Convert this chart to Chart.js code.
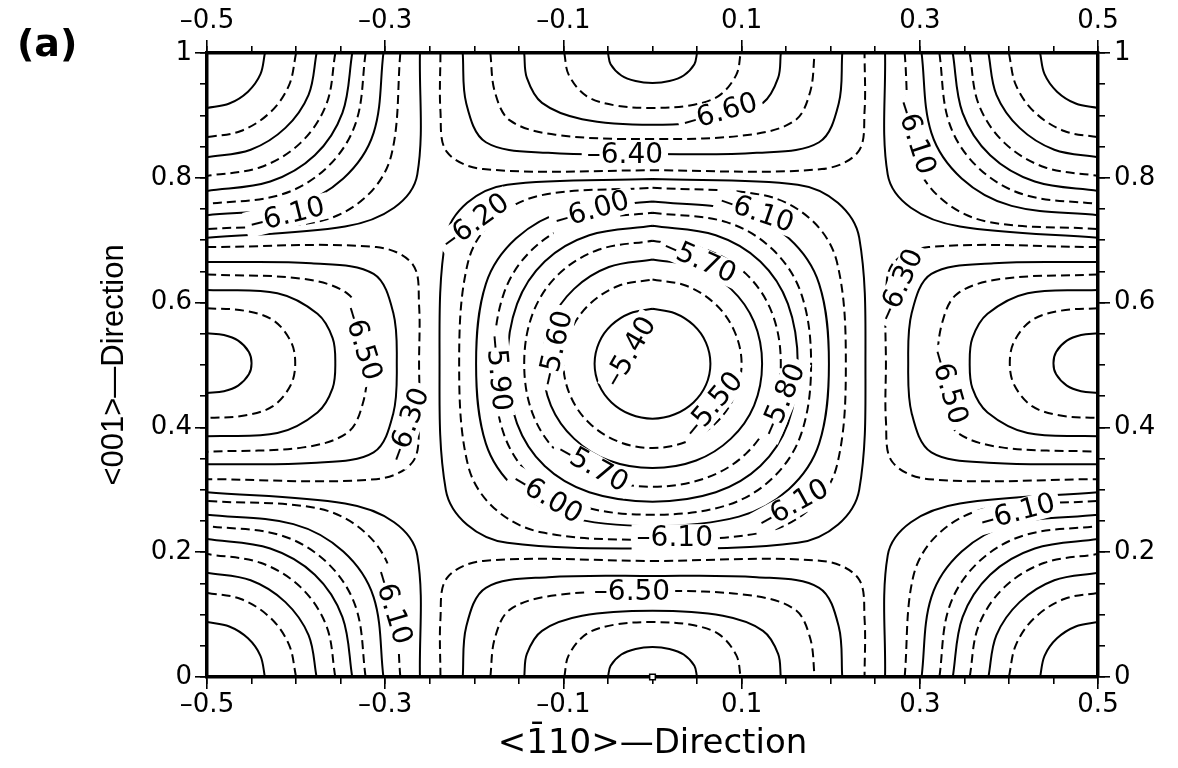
<!DOCTYPE html>
<html>
<head>
<meta charset="utf-8">
<script src="https://cdn.jsdelivr.net/npm/chart.js@4.4.1/dist/chart.umd.min.js"></script>
<style>
  html, body { margin: 0; background: #fff; }
  #wrap { width: 1178px; height: 768px; position: relative; }
</style>
</head>
<body>
<div id="wrap"><canvas id="contour"></canvas></div>
<script>
// tick labels
const xTicks = [-0.5, -0.3, -0.1, 0.1, 0.3, 0.5];
const yTicks = [0, 0.2, 0.4, 0.6, 0.8, 1];

// contour levels (solid = even tenths, dashed = odd tenths)
const maxLevels = [-5.4, -5.5, -5.6, -5.7, -5.8, -5.9, -6.0, -6.1, -6.2];
const minLevels = [-6.3, -6.4, -6.5, -6.6, -6.7, -6.8];

// closed contours round the maximum at (0, 0.5), same order as maxLevels
const centerRings = [
  [[0,.590],[.025,.583],[.046,.564],[.060,.536],[.065,.502],[.060,.468],[.046,.440],[.025,.421],[0,.414],[-.025,.421],[-.046,.440],[-.060,.468],[-.065,.502],[-.060,.536],[-.046,.564],[-.025,.583],[0,.590]],
  [[0,.637],[.038,.627],[.071,.597],[.092,.554],[.100,.502],[.092,.450],[.071,.407],[.038,.377],[0,.367],[-.038,.377],[-.071,.407],[-.092,.450],[-.100,.502],[-.092,.554],[-.071,.597],[-.038,.627],[0,.637]],
  [[0,.669],[.049,.657],[.088,.622],[.114,.569],[.123,.502],[.114,.435],[.088,.382],[.049,.347],[0,.335],[-.049,.347],[-.088,.382],[-.114,.435],[-.123,.502],[-.114,.569],[-.088,.622],[-.049,.657],[0,.669]],
  [[0,.699],[.060,.685],[.105,.646],[.134,.584],[.144,.502],[.134,.420],[.105,.358],[.060,.319],[0,.305],[-.060,.319],[-.105,.358],[-.134,.420],[-.144,.502],[-.134,.584],[-.105,.646],[-.060,.685],[0,.699]],
  [[0,.723],[.071,.708],[.121,.666],[.152,.598],[.163,.502],[.152,.406],[.121,.338],[.071,.296],[0,.281],[-.071,.296],[-.121,.338],[-.152,.406],[-.163,.502],[-.152,.598],[-.121,.666],[-.071,.708],[0,.723]],
  [[0,.744],[.083,.729],[.135,.685],[.167,.614],[.178,.502],[.167,.390],[.135,.319],[.083,.275],[0,.260],[-.083,.275],[-.135,.319],[-.167,.390],[-.178,.502],[-.167,.614],[-.135,.685],[-.083,.729],[0,.744]],
  [[0,.762],[.097,.747],[.153,.703],[.187,.630],[.198,.502],[.187,.374],[.153,.301],[.097,.257],[0,.242],[-.097,.257],[-.153,.301],[-.187,.374],[-.198,.502],[-.187,.630],[-.153,.703],[-.097,.747],[0,.762]],
  [[0,.784],[.125,.772],[.178,.733],[.207,.665],[.217,.502],[.207,.339],[.178,.271],[.125,.232],[0,.220],[-.125,.232],[-.178,.271],[-.207,.339],[-.217,.502],[-.207,.665],[-.178,.733],[-.125,.772],[0,.784]],
  [[0,.798],[.163,.789],[.208,.760],[.232,.704],[.239,.502],[.232,.300],[.208,.244],[.163,.215],[0,.206],[-.163,.215],[-.208,.244],[-.232,.300],[-.239,.502],[-.232,.704],[-.208,.760],[-.163,.789],[0,.798]]
];

// arcs round the four corner maxima, same order as maxLevels
const cornerTL = [
  [[-.435,1],[-.440,.966],[-.454,.938],[-.475,.919],[-.5,.912]],
  [[-.400,1],[-.408,.948],[-.429,.905],[-.462,.875],[-.5,.865]],
  [[-.377,1],[-.386,.933],[-.412,.880],[-.451,.845],[-.5,.833]],
  [[-.356,1],[-.366,.918],[-.395,.856],[-.440,.817],[-.5,.803]],
  [[-.337,1],[-.348,.904],[-.379,.836],[-.429,.794],[-.5,.779]],
  [[-.322,1],[-.333,.888],[-.365,.817],[-.417,.773],[-.5,.758]],
  [[-.302,1],[-.313,.872],[-.347,.799],[-.403,.755],[-.5,.740]],
  [[-.283,1],[-.293,.837],[-.322,.769],[-.375,.730],[-.5,.718]],
  [[-.261,1],[-.264,.805],[-.290,.752],[-.345,.722],[-.5,.704]]
];
const cornerTR = [
  [[.435,1],[.440,.966],[.454,.938],[.475,.919],[.5,.912]],
  [[.400,1],[.408,.948],[.429,.905],[.462,.875],[.5,.865]],
  [[.377,1],[.386,.933],[.412,.880],[.451,.845],[.5,.833]],
  [[.356,1],[.366,.918],[.395,.856],[.440,.817],[.5,.803]],
  [[.337,1],[.348,.904],[.379,.836],[.429,.794],[.5,.779]],
  [[.322,1],[.333,.888],[.365,.817],[.417,.773],[.5,.758]],
  [[.302,1],[.313,.872],[.347,.799],[.403,.755],[.5,.740]],
  [[.283,1],[.293,.837],[.322,.769],[.375,.730],[.5,.718]],
  [[.261,1],[.264,.805],[.290,.752],[.345,.722],[.5,.704]]
];
const cornerBL = [
  [[-.435,0],[-.440,.034],[-.454,.062],[-.475,.081],[-.5,.088]],
  [[-.400,0],[-.408,.052],[-.429,.095],[-.462,.125],[-.5,.135]],
  [[-.377,0],[-.386,.067],[-.412,.120],[-.451,.155],[-.5,.167]],
  [[-.356,0],[-.366,.082],[-.395,.144],[-.440,.183],[-.5,.197]],
  [[-.337,0],[-.348,.096],[-.379,.164],[-.429,.206],[-.5,.221]],
  [[-.322,0],[-.333,.112],[-.365,.183],[-.417,.227],[-.5,.242]],
  [[-.302,0],[-.313,.128],[-.347,.201],[-.403,.245],[-.5,.260]],
  [[-.283,0],[-.293,.163],[-.322,.231],[-.375,.270],[-.5,.282]],
  [[-.261,0],[-.264,.195],[-.290,.248],[-.345,.278],[-.5,.296]]
];
const cornerBR = [
  [[.435,0],[.440,.034],[.454,.062],[.475,.081],[.5,.088]],
  [[.400,0],[.408,.052],[.429,.095],[.462,.125],[.5,.135]],
  [[.377,0],[.386,.067],[.412,.120],[.451,.155],[.5,.167]],
  [[.356,0],[.366,.082],[.395,.144],[.440,.183],[.5,.197]],
  [[.337,0],[.348,.096],[.379,.164],[.429,.206],[.5,.221]],
  [[.322,0],[.333,.112],[.365,.183],[.417,.227],[.5,.242]],
  [[.302,0],[.313,.128],[.347,.201],[.403,.245],[.5,.260]],
  [[.283,0],[.293,.163],[.322,.231],[.375,.270],[.5,.282]],
  [[.261,0],[.264,.195],[.290,.248],[.345,.278],[.5,.296]]
];

// half rings round the minima, same order as minLevels
const minBottom = [
  [[-.238,0],[-.238,.093],[-.231,.158],[-.190,.186],[0,.186],[.190,.186],[.231,.158],[.238,.093],[.238,0]],
  [[-.213,0],[-.209,.081],[-.187,.143],[-.117,.160],[0,.162],[.117,.160],[.187,.143],[.209,.081],[.213,0]],
  [[-.182,0],[-.177,.062],[-.160,.108],[-.109,.131],[0,.138],[.109,.131],[.160,.108],[.177,.062],[.182,0]],
  [[-.144,0],[-.141,.037],[-.124,.074],[-.079,.098],[0,.106],[.079,.098],[.124,.074],[.141,.037],[.144,0]],
  [[-.099,0],[-.094,.035],[-.074,.069],[-.042,.084],[0,.088],[.042,.084],[.074,.069],[.094,.035],[.099,0]],
  [[-.050,0],[-.047,.018],[-.035,.036],[-.019,.045],[0,.048],[.019,.045],[.035,.036],[.047,.018],[.050,0]]
];
const minTop = [
  [[-.238,1],[-.238,.907],[-.231,.842],[-.190,.814],[0,.812],[.190,.814],[.231,.842],[.238,.907],[.238,1]],
  [[-.213,1],[-.209,.919],[-.187,.857],[-.117,.840],[0,.838],[.117,.840],[.187,.857],[.209,.919],[.213,1]],
  [[-.182,1],[-.177,.938],[-.160,.892],[-.109,.869],[0,.862],[.109,.869],[.160,.892],[.177,.938],[.182,1]],
  [[-.144,1],[-.141,.960],[-.124,.920],[-.079,.894],[0,.885],[.079,.894],[.124,.920],[.141,.960],[.144,1]],
  [[-.099,1],[-.094,.965],[-.074,.931],[-.042,.916],[0,.912],[.042,.916],[.074,.931],[.094,.965],[.099,1]],
  [[-.050,1],[-.047,.982],[-.035,.964],[-.019,.955],[0,.952],[.019,.955],[.035,.964],[.047,.982],[.050,1]]
];
const minLeft = [
  [[-.5,.689],[-.310,.689],[-.269,.661],[-.262,.596],[-.262,.503],[-.262,.410],[-.269,.345],[-.310,.317],[-.5,.317]],
  [[-.5,.665],[-.383,.663],[-.313,.646],[-.291,.584],[-.287,.503],[-.291,.422],[-.313,.360],[-.383,.343],[-.5,.341]],
  [[-.5,.645],[-.392,.638],[-.342,.614],[-.325,.567],[-.320,.503],[-.325,.439],[-.342,.392],[-.392,.368],[-.5,.361]],
  [[-.5,.620],[-.421,.615],[-.376,.582],[-.359,.543],[-.356,.503],[-.359,.463],[-.376,.424],[-.421,.391],[-.5,.386]],
  [[-.5,.591],[-.458,.587],[-.426,.572],[-.406,.538],[-.401,.503],[-.406,.468],[-.426,.434],[-.458,.419],[-.5,.415]],
  [[-.5,.551],[-.481,.548],[-.465,.539],[-.453,.521],[-.450,.503],[-.453,.485],[-.465,.467],[-.481,.458],[-.5,.455]]
];
const minRight = [
  [[.5,.689],[.310,.689],[.269,.661],[.262,.596],[.262,.503],[.262,.410],[.269,.345],[.310,.317],[.5,.317]],
  [[.5,.665],[.383,.663],[.313,.646],[.291,.584],[.287,.503],[.291,.422],[.313,.360],[.383,.343],[.5,.341]],
  [[.5,.645],[.392,.638],[.342,.614],[.325,.567],[.320,.503],[.325,.439],[.342,.392],[.392,.368],[.5,.361]],
  [[.5,.620],[.421,.615],[.376,.582],[.359,.543],[.356,.503],[.359,.463],[.376,.424],[.421,.391],[.5,.386]],
  [[.5,.591],[.458,.587],[.426,.572],[.406,.538],[.401,.503],[.406,.468],[.426,.434],[.458,.419],[.5,.415]],
  [[.5,.551],[.481,.548],[.465,.539],[.453,.521],[.450,.503],[.453,.485],[.465,.467],[.481,.458],[.5,.455]]
];

// small square marker on the lower axis
const markerX = [0];
const markerY = [0];

// contour labels
const labelText = ['–6.60','–6.40','–6.20','–6.00','–6.10','–6.10','–6.10','–5.70','–5.40','–5.60','–5.90','–5.50',
                   '–5.80','–5.70','–6.00','–6.10','–6.10','–6.50','–6.30','–6.50','–6.50','–6.30','–6.10','–6.10'];
const labelX = [.076,-.031,-.199,-.068,.117,-.410,.295,.053,-.025,-.109,-.173,.068,
                .146,-.067,-.118,.025,.158,-.023,.278,.332,-.326,-.274,-.292,.410];
const labelY = [.905,.837,.729,.748,.745,.740,.865,.668,.521,.527,.487,.436,
                .444,.337,.288,.224,.276,.136,.628,.465,.535,.404,.112,.264];
const labelRot = [-16,0,-36,-16,19,-14,72,24,-60,-77,85,-50,
                  -67,29,31,0,-29,0,-66,74,73,-70,73,-15];

const INK = '#000';
const TICK_FONT = { family: 'DejaVu Sans', size: 26 };

function contourSet(points, level) {
    const dashed = Math.round(level * 10) % 2 !== 0;
    return {
        data: points.map(p => ({ x: p[0], y: p[1] })),
        showLine: true,
        pointRadius: 0,
        borderColor: INK,
        borderWidth: 2,
        borderDash: dashed ? [9, 5] : [],
        tension: 0.35,
        fill: false,
    };
}

const datasets = [];
maxLevels.forEach((lv, i) => {
    [centerRings, cornerTL, cornerTR, cornerBL, cornerBR].forEach(group => datasets.push(contourSet(group[i], lv)));
});
minLevels.forEach((lv, i) => {
    [minBottom, minTop, minLeft, minRight].forEach(group => datasets.push(contourSet(group[i], lv)));
});
datasets.push({
    data: markerX.map((v, i) => ({ x: v, y: markerY[i] })),
    pointStyle: 'rect',
    pointRadius: 4,
    borderColor: INK,
    backgroundColor: '#fff',
    borderWidth: 1.5,
    clip: false,
});

const fmtX = v => (v < 0 ? '–' : '') + Math.abs(v).toFixed(1);
const fmtY = v => (v === 0 || v === 1) ? String(v) : v.toFixed(1);

function majorAxis(axis, position, ticks, fmt, size, tickLen, pad) {
    return {
        type: 'linear', axis, position, weight: 1,
        min: axis === 'x' ? -0.5 : 0, max: axis === 'x' ? 0.5 : 1,
        afterFit: s => { if (axis === 'x') s.height = size; else s.width = size; },
        afterBuildTicks: s => { s.ticks = ticks.map(v => ({ value: v })); },
        ticks: { callback: fmt, font: TICK_FONT, color: INK, padding: pad, autoSkip: false, maxRotation: 0 },
        grid: { drawOnChartArea: false, tickLength: tickLen, color: INK, lineWidth: 1.6 },
        border: { display: true, color: INK, width: 3.5 },
    };
}
function minorAxis(axis, position) {
    return {
        type: 'linear', axis, position, weight: 0,
        min: axis === 'x' ? -0.5 : 0, max: axis === 'x' ? 0.5 : 1,
        afterFit: s => { if (axis === 'x') s.height = 0; else s.width = 0; },
        ticks: { display: false, stepSize: 0.05, maxTicksLimit: 40 },
        grid: { drawOnChartArea: false, tickLength: 7, color: INK, lineWidth: 1.6 },
        border: { display: false },
    };
}

const xBottom = majorAxis('x', 'bottom', xTicks, fmtX, 91, 12, 1);
xBottom.title = { display: true, text: '<1\u030410>—Direction', color: INK,
    font: { family: 'DejaVu Sans', size: 34 }, padding: { top: 0, bottom: 3 } };
const yLeft = majorAxis('y', 'left', yTicks, fmtY, 207, 12, 3);
yLeft.title = { display: true, text: '<001>—Direction', color: INK,
    font: { family: 'Liberation Sans', size: 31 }, padding: { top: 96, bottom: 0 } };

const labelPlugin = {
    id: 'contourLabels',
    afterDatasetsDraw(chart) {
        const { ctx, scales: { x, y } } = chart;
        ctx.save();
        ctx.font = '28px "DejaVu Sans"';
        ctx.textAlign = 'center';
        ctx.textBaseline = 'middle';
        labelText.forEach((t, i) => {
            ctx.save();
            ctx.translate(x.getPixelForValue(labelX[i]), y.getPixelForValue(labelY[i]));
            ctx.rotate(labelRot[i] * Math.PI / 180);
            const w = ctx.measureText(t).width;
            ctx.fillStyle = '#fff';
            ctx.fillRect(-w / 2 - 5, -13, w + 10, 26);
            ctx.fillStyle = INK;
            ctx.fillText(t, 0, 1);
            ctx.restore();
        });
        ctx.restore();
    },
    afterDraw(chart) {
        const ctx = chart.ctx;
        ctx.save();
        ctx.font = 'bold 38px "DejaVu Sans"';
        ctx.fillStyle = INK;
        ctx.textBaseline = 'alphabetic';
        ctx.fillText('(a)', 17, 56);
        ctx.restore();
    },
};

new Chart(document.getElementById('contour'), {
    type: 'scatter',
    data: { datasets },
    options: {
        responsive: true,
        maintainAspectRatio: false,
        animation: false,
        devicePixelRatio: 1,
        layout: { padding: 0 },
        plugins: { legend: { display: false }, tooltip: { enabled: false } },
        scales: {
            x: xBottom,
            xMinor: minorAxis('x', 'bottom'),
            xTop: majorAxis('x', 'top', xTicks, fmtX, 53, 13, 3),
            xTopMinor: minorAxis('x', 'top'),
            y: yLeft,
            yMinor: minorAxis('y', 'left'),
            yRight: majorAxis('y', 'right', yTicks, fmtY, 80, 12, 4),
            yRightMinor: minorAxis('y', 'right'),
        },
    },
    plugins: [labelPlugin],
});
</script>
</body>
</html>
